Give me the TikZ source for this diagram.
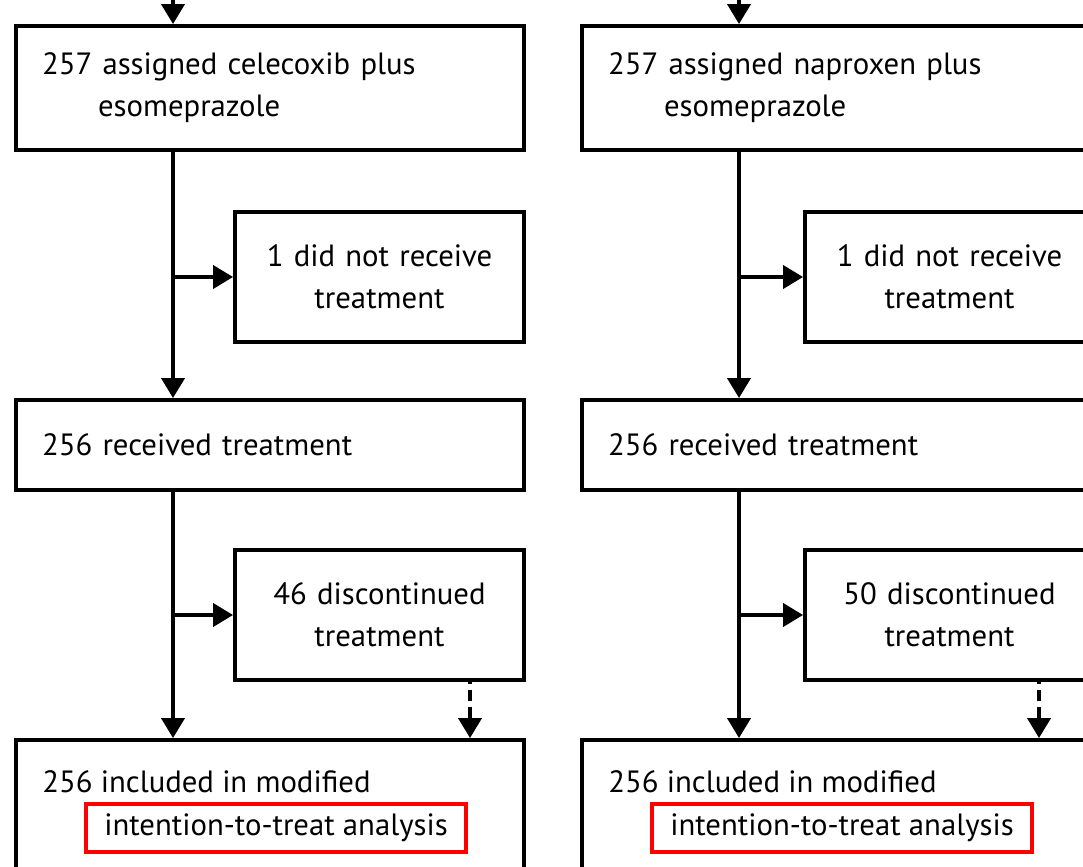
\documentclass[tikz,border=0pt]{standalone}
\usepackage{fontspec}
\setmainfont{PT Sans}
\usetikzlibrary{arrows.meta}
\tikzset{
  flow/.style={line width=2.2pt, -{Triangle[width=0.46cm,length=0.4cm]}},
  mainbox/.style={draw, line width=2.2pt, minimum width=10.16cm, minimum height=#1,
    inner xsep=0.52cm, inner ysep=0pt, text width=9.12cm, align=left},
  sidebox/.style={draw, line width=2.2pt, minimum width=5.78cm, minimum height=2.6cm,
    inner sep=0pt, text width=5.2cm, align=center},
  itt/.style={draw=red, line width=2pt, minimum width=7.6cm, minimum height=0.96cm, inner sep=0pt},
  every node/.style={font=\fontsize{17.5}{24}\selectfont}
}
\begin{document}
\begin{tikzpicture}
\clip (0,0) rectangle (21.66,-17.32);
% left arm
\coordinate (lin) at (3.46,0.5);
\node [mainbox=2.48cm] (la) at (5.4,-1.76) {257 assigned celecoxib plus\\\hspace*{1.12cm}esomeprazole};
\node [sidebox] (ls1) at (7.59,-5.54) {1 did not receive\\treatment};
\node [mainbox=1.8cm] (lb) at (5.4,-8.9) {256 received treatment};
\node [sidebox] (ls2) at (7.59,-12.3) {46 discontinued\\treatment};
\node [draw, line width=2.2pt, minimum width=10.16cm, minimum height=3.2cm] (lc) at (5.4,-16.4) {};
\node [anchor=base west, inner sep=0pt] (lctxt) at (0.84,-15.84) {256 included in modified};
\node [itt] (litt) at (5.52,-16.56) {intention-to-treat analysis};
\draw [flow] (lin) -- (la.north -| lin);
\draw [flow] (la.south -| lin) -- (lb.north -| lin);
\draw [flow] (ls1.west -| lin) -- (ls1.west);
\draw [flow] (lb.south -| lin) -- (lc.north -| lin);
\draw [flow] (ls2.west -| lin) -- (ls2.west);
\coordinate (ldash) at (9.4,0);
\draw [flow, dash pattern=on 0.22cm off 0.12cm, dash phase=-0.16cm] (ls2.south -| ldash) -- (lc.north -| ldash);
% right arm
\coordinate (rin) at (14.78,0.5);
\node [mainbox=2.48cm] (ra) at (16.72,-1.76) {257 assigned naproxen plus\\\hspace*{1.12cm}esomeprazole};
\node [sidebox] (rs1) at (18.99,-5.54) {1 did not receive\\treatment};
\node [mainbox=1.8cm] (rb) at (16.72,-8.9) {256 received treatment};
\node [sidebox] (rs2) at (18.99,-12.3) {50 discontinued\\treatment};
\node [draw, line width=2.2pt, minimum width=10.16cm, minimum height=3.2cm] (rc) at (16.72,-16.4) {};
\node [anchor=base west, inner sep=0pt] (rctxt) at (12.16,-15.84) {256 included in modified};
\node [itt] (ritt) at (16.84,-16.56) {intention-to-treat analysis};
\draw [flow] (rin) -- (ra.north -| rin);
\draw [flow] (ra.south -| rin) -- (rb.north -| rin);
\draw [flow] (rs1.west -| rin) -- (rs1.west);
\draw [flow] (rb.south -| rin) -- (rc.north -| rin);
\draw [flow] (rs2.west -| rin) -- (rs2.west);
\coordinate (rdash) at (20.78,0);
\draw [flow, dash pattern=on 0.22cm off 0.12cm, dash phase=-0.16cm] (rs2.south -| rdash) -- (rc.north -| rdash);
\end{tikzpicture}
\end{document}
